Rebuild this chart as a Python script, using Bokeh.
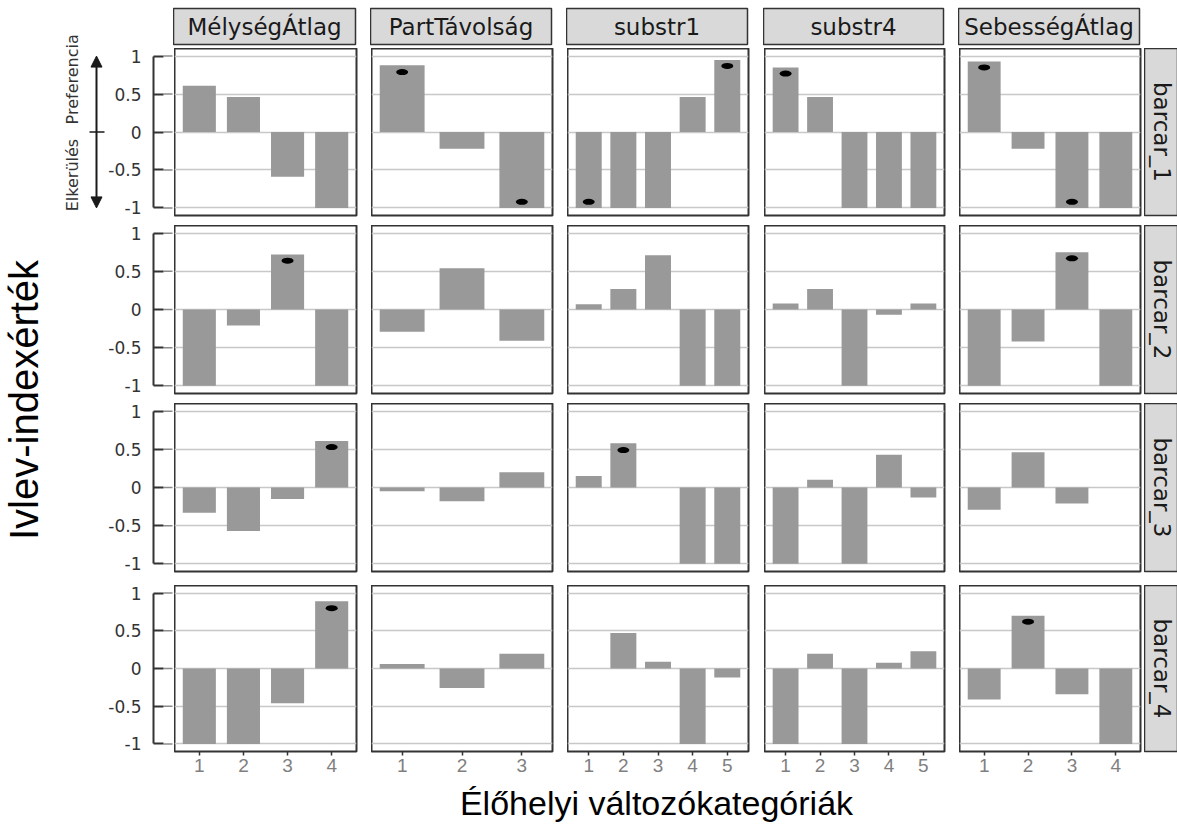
import math

from bokeh.core.properties import value
from bokeh.embed import file_html
from bokeh.layouts import column, row
from bokeh.models import (Arrow, ColumnDataSource, FactorRange, FixedTicker, Grid,
                          NormalHead, Range1d, Spacer)
from bokeh.plotting import figure
from bokeh.resources import INLINE

# ---------------------------------------------------------------- data
variables = ["MélységÁtlag", "PartTávolság", "substr1", "substr4", "SebességÁtlag"]
n_categories = [4, 3, 5, 5, 4]
species = ["barcar_1", "barcar_2", "barcar_3", "barcar_4"]

ivlev_barcar_1 = {
    "MélységÁtlag": [0.61, 0.46, -0.59, -1.0],
    "PartTávolság": [0.88, -0.22, -1.0],
    "substr1": [-1.0, -1.0, -1.0, 0.46, 0.95],
    "substr4": [0.85, 0.46, -1.0, -1.0, -1.0],
    "SebességÁtlag": [0.93, -0.22, -1.0, -1.0],
}
ivlev_barcar_2 = {
    "MélységÁtlag": [-1.0, -0.21, 0.72, -1.0],
    "PartTávolság": [-0.29, 0.54, -0.41],
    "substr1": [0.07, 0.27, 0.71, -1.0, -1.0],
    "substr4": [0.08, 0.27, -1.0, -0.07, 0.08],
    "SebességÁtlag": [-1.0, -0.42, 0.75, -1.0],
}
ivlev_barcar_3 = {
    "MélységÁtlag": [-0.33, -0.57, -0.15, 0.61],
    "PartTávolság": [-0.05, -0.18, 0.20],
    "substr1": [0.15, 0.58, 0.0, -1.0, -1.0],
    "substr4": [-1.0, 0.10, -1.0, 0.43, -0.13],
    "SebességÁtlag": [-0.29, 0.46, -0.21, 0.0],
}
ivlev_barcar_4 = {
    "MélységÁtlag": [-1.0, -1.0, -0.46, 0.89],
    "PartTávolság": [0.06, -0.26, 0.195],
    "substr1": [0.0, 0.47, 0.09, -1.0, -0.12],
    "substr4": [-1.0, 0.195, -1.0, 0.075, 0.23],
    "SebességÁtlag": [-0.41, 0.70, -0.34, -1.0],
}
ivlev = {
    "barcar_1": ivlev_barcar_1,
    "barcar_2": ivlev_barcar_2,
    "barcar_3": ivlev_barcar_3,
    "barcar_4": ivlev_barcar_4,
}

# significant selection: (species, variable, category, marker value)
significant = [
    ("barcar_1", "PartTávolság", 1, 0.79),
    ("barcar_1", "PartTávolság", 3, -0.92),
    ("barcar_1", "substr1", 1, -0.92),
    ("barcar_1", "substr1", 5, 0.87),
    ("barcar_1", "substr4", 1, 0.77),
    ("barcar_1", "SebességÁtlag", 1, 0.85),
    ("barcar_1", "SebességÁtlag", 3, -0.92),
    ("barcar_2", "MélységÁtlag", 3, 0.64),
    ("barcar_2", "SebességÁtlag", 3, 0.67),
    ("barcar_3", "MélységÁtlag", 4, 0.53),
    ("barcar_3", "substr1", 2, 0.49),
    ("barcar_4", "MélységÁtlag", 4, 0.80),
    ("barcar_4", "SebességÁtlag", 2, 0.62),
]

y_ticks = [-1, -0.5, 0, 0.5, 1]
y_tick_labels = ["-1", "-0.5", "0", "0.5", "1"]
y_title = "Ivlev-indexérték"
x_title = "Élőhelyi változókategóriák"
label_pref = "Preferencia"
label_avoid = "Elkerülés"

# ---------------------------------------------------------------- layout / style
TOTAL_W = 1177
LEFT_W = 105
AXIS_BORDER, AXIS_FRAME = 47, 21
PANEL_W = [182, 181, 181, 180, 181]
PANEL_GAP = [15, 15, 16, 15, 4]
RSTRIP_W = 34
STRIP_TOP, STRIP_H, STRIP_GAP = 8, 36, 4
ROW_H = [167, 168, 168, 166]
ROW_GAP = [10, 10, 14, 29]
XTITLE_H = 47
Y_LO, Y_HI = -1.1, 1.1
BAR_W = 0.75

BAR_COLOR = "#999999"
GRID_COLOR = "#c8c8c8"
BORDER = "#333333"
STRIP_FILL = "#d9d9d9"
TEXT_DARK = "#1a1a1a"


def base_fig(fw, fh, xr, yr, left=0, right=0, top=0, bottom=0, xaxis=None, yaxis=None):
    p = figure(frame_width=fw, frame_height=fh, x_range=xr, y_range=yr, title=None,
               min_border_left=left, min_border_right=right,
               min_border_top=top, min_border_bottom=bottom,
               x_axis_location=xaxis, y_axis_location=yaxis,
               toolbar_location=None, output_backend="svg")
    p.grid.visible = False
    p.outline_line_color = None
    p.border_fill_color = "white"
    p.background_fill_color = "white"
    return p


def panel(sp, ci, ri):
    var = variables[ci]
    n = n_categories[ci]
    cats = [str(k) for k in range(1, n + 1)]
    # bar extent plus 5 % expansion on either side
    pad = 0.05 * (n - 1 + BAR_W) - (1 - BAR_W) / 2
    xr = FactorRange(factors=cats, range_padding=pad, range_padding_units="absolute")
    last = ri == len(species) - 1
    p = base_fig(PANEL_W[ci], ROW_H[ri], xr, Range1d(Y_LO, Y_HI),
                 right=PANEL_GAP[ci], bottom=ROW_GAP[ri],
                 xaxis="below" if last else None)
    p.add_layout(Grid(dimension=1, ticker=FixedTicker(ticks=y_ticks),
                      grid_line_color=GRID_COLOR, grid_line_width=1.5))
    src = ColumnDataSource(dict(cat=cats, val=ivlev[sp][var]))
    p.vbar(x="cat", top="val", bottom=0, width=BAR_W, source=src,
           fill_color=BAR_COLOR, line_color=None)
    pts = [(str(k), y) for (s, v, k, y) in significant if s == sp and v == var]
    if pts:
        p.ellipse(x=[a for a, _ in pts], y=[b for _, b in pts], width=12, height=6,
                  width_units="screen", height_units="screen",
                  fill_color="black", line_color=None)
    p.outline_line_color = BORDER
    p.outline_line_width = 2
    if last:
        ax = p.xaxis[0]
        ax.axis_line_color = None
        ax.major_tick_in = 0
        ax.major_tick_out = 4
        ax.major_tick_line_color = BORDER
        ax.major_tick_line_width = 1.5
        ax.minor_tick_line_color = None
        ax.major_label_text_font = "Liberation Sans"
        ax.major_label_text_font_size = "19px"
        ax.major_label_text_color = "#7f7f7f"
        ax.major_label_standoff = 3
    return p


def axis_fig(ri):
    p = base_fig(AXIS_FRAME, ROW_H[ri], Range1d(0, AXIS_FRAME), Range1d(Y_LO, Y_HI),
                 left=AXIS_BORDER, bottom=ROW_GAP[ri], yaxis="left")
    ax = p.yaxis[0]
    ax.ticker = FixedTicker(ticks=y_ticks)
    ax.bounds = (-1, 1)
    ax.major_label_overrides = dict(zip(y_ticks, y_tick_labels))
    ax.major_tick_in = 10
    ax.major_tick_out = 0
    ax.major_tick_line_color = BORDER
    ax.major_tick_line_width = 2
    ax.minor_tick_line_color = None
    ax.axis_line_color = BORDER
    ax.axis_line_width = 2
    ax.major_label_standoff = 12
    ax.major_label_text_font = "DejaVu Sans"
    ax.major_label_text_font_size = "17px"
    ax.major_label_text_color = "#333333"
    p.segment(x0=10, x1=19, y0=y_ticks, y1=y_ticks, line_color="#8c8c8c", line_width=1.5)
    return p


def col_strip(ci):
    w = PANEL_W[ci]
    p = base_fig(w, STRIP_H, Range1d(0, w), Range1d(0, STRIP_H),
                 top=STRIP_TOP, bottom=STRIP_GAP, right=PANEL_GAP[ci])
    p.background_fill_color = STRIP_FILL
    p.outline_line_color = BORDER
    p.outline_line_width = 1.5
    p.text(x=[w / 2], y=[STRIP_H / 2], text=[variables[ci]], text_align="center",
           text_baseline="middle", text_font=value("DejaVu Sans"),
           text_font_size="23px", text_color=TEXT_DARK)
    return p


def row_strip(ri):
    h = ROW_H[ri]
    p = base_fig(RSTRIP_W, h, Range1d(0, RSTRIP_W), Range1d(0, h), bottom=ROW_GAP[ri])
    p.background_fill_color = STRIP_FILL
    p.outline_line_color = BORDER
    p.outline_line_width = 1.5
    p.text(x=[RSTRIP_W / 2], y=[h / 2], text=[species[ri]], angle=-math.pi / 2,
           text_align="center", text_baseline="middle", text_font=value("DejaVu Sans"),
           text_font_size="23px", text_color=TEXT_DARK)
    return p


# ---------------------------------------------------------------- left column
right_h = STRIP_TOP + STRIP_H + STRIP_GAP + sum(ROW_H) + sum(ROW_GAP)
panel_top = STRIP_TOP + STRIP_H + STRIP_GAP
ppu = ROW_H[0] / (Y_HI - Y_LO)  # pixels per index unit in the first row
left_y = Range1d(Y_LO - (right_h - panel_top - ROW_H[0]) / ppu, Y_HI + panel_top / ppu)
left = base_fig(LEFT_W, right_h, Range1d(0, LEFT_W), left_y)

left.add_layout(Arrow(x_start=96, y_start=-1, x_end=96, y_end=1, line_width=2,
                      line_color=TEXT_DARK,
                      start=NormalHead(size=11, fill_color=TEXT_DARK, line_color=TEXT_DARK),
                      end=NormalHead(size=11, fill_color=TEXT_DARK, line_color=TEXT_DARK)))
left.segment(x0=[89], x1=[104], y0=[0], y1=[0], line_color=TEXT_DARK, line_width=1.5)
left.text(x=[72], y=[0.1], text=[label_pref], angle=math.pi / 2, text_align="left",
          text_baseline="middle", text_font=value("DejaVu Sans"), text_font_size="16px",
          text_color="#333333")
left.text(x=[72], y=[-0.09], text=[label_avoid], angle=math.pi / 2, text_align="right",
          text_baseline="middle", text_font=value("DejaVu Sans"), text_font_size="16px",
          text_color="#333333")
panels_mid_px = (panel_top + right_h - ROW_GAP[-1]) / 2
left.text(x=[23], y=[Y_HI - (panels_mid_px - panel_top) / ppu], text=[y_title],
          angle=math.pi / 2, text_align="center", text_baseline="middle",
          text_font=value("Liberation Sans"), text_font_size="40px", text_color="black")

# ---------------------------------------------------------------- facet grid
strip_row = row([Spacer(width=AXIS_BORDER + AXIS_FRAME, height=STRIP_TOP + STRIP_H + STRIP_GAP)]
                + [col_strip(ci) for ci in range(len(variables))]
                + [Spacer(width=RSTRIP_W, height=STRIP_TOP + STRIP_H + STRIP_GAP)])
grid_rows = []
for ri, sp in enumerate(species):
    grid_rows.append(row([axis_fig(ri)]
                         + [panel(sp, ci, ri) for ci in range(len(variables))]
                         + [row_strip(ri)]))
right_block = column([strip_row] + grid_rows)

# ---------------------------------------------------------------- x title
xt = base_fig(TOTAL_W, XTITLE_H, Range1d(0, TOTAL_W), Range1d(0, XTITLE_H))
panels_left = LEFT_W + AXIS_BORDER + AXIS_FRAME
panels_right = panels_left + sum(PANEL_W) + sum(PANEL_GAP[:-1])
xt.text(x=[(panels_left + panels_right) / 2], y=[25], text=[x_title], text_align="center",
        text_baseline="middle", text_font=value("Liberation Sans"),
        text_font_size="34px", text_color="black")

layout = column([row([left, right_block]), xt])

open("out.html", "w").write(file_html(layout, INLINE))
